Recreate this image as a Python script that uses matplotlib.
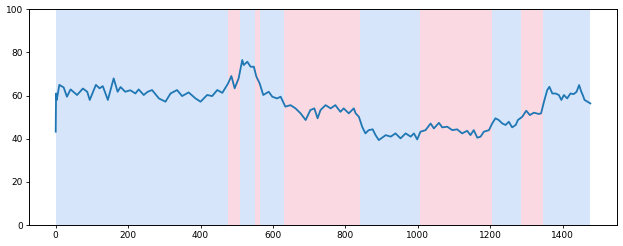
import numpy as np
import matplotlib
matplotlib.use("Agg")
import matplotlib.pyplot as plt

# series (index, value)
t = [0, 1, 3, 10, 22, 31, 41, 59, 75, 87, 94, 111, 121, 130, 144, 160, 171, 179,
     192, 206, 220, 229, 243, 254, 266, 285, 303, 317, 335, 349, 367, 386, 400,
     418, 432, 446, 460, 469, 476, 485, 494, 505, 515, 519, 529, 538, 547, 554,
     563, 573, 588, 598, 611, 621, 634, 648, 662, 676, 690, 703, 714, 723, 731,
     745, 759, 772, 786, 795, 809, 823, 828, 837, 846, 855, 864, 875, 883, 892,
     911, 925, 938, 952, 966, 980, 989, 998, 1007, 1021, 1035, 1044, 1058, 1067,
     1081, 1095, 1108, 1122, 1136, 1145, 1154, 1164, 1173, 1182, 1196, 1205,
     1214, 1223, 1233, 1242, 1251, 1260, 1270, 1276, 1288, 1299, 1309, 1320,
     1334, 1340, 1348, 1357, 1363, 1371, 1380, 1389, 1396, 1403, 1412, 1421,
     1430, 1438, 1445, 1451, 1455, 1460, 1468, 1476]
vals = [43.3, 61.0, 58.0, 65.0, 63.8, 59.5, 62.9, 60.3, 63.3, 61.8, 58.0, 65.0,
        63.4, 64.4, 58.0, 68.0, 61.8, 64.0, 61.8, 62.5, 61.0, 62.9, 60.3, 61.8,
        62.6, 58.7, 57.2, 61.0, 62.6, 59.8, 61.5, 58.7, 57.2, 60.3, 59.8, 62.6,
        61.3, 63.8, 65.7, 69.1, 63.4, 68.0, 76.5, 74.2, 75.7, 73.4, 73.4, 68.8,
        65.7, 60.3, 61.8, 59.5, 58.7, 59.5, 54.9, 55.6, 54.1, 51.8, 48.7, 53.3,
        54.1, 49.5, 53.3, 55.6, 54.1, 55.6, 52.5, 54.1, 51.8, 54.1, 51.8, 50.2,
        45.6, 42.5, 44.0, 44.4, 41.7, 39.4, 41.7, 41.0, 42.5, 40.2, 42.5, 41.0,
        42.5, 39.7, 43.3, 44.0, 47.1, 44.8, 47.4, 45.3, 45.6, 44.0, 44.4, 42.5,
        43.7, 41.7, 44.0, 40.5, 41.0, 43.3, 44.0, 47.1, 49.5, 48.7, 47.1, 46.4,
        47.9, 45.3, 46.4, 48.7, 50.2, 53.0, 51.0, 52.1, 51.5, 51.8, 57.2, 62.6,
        64.1, 61.0, 61.0, 60.3, 58.0, 60.3, 58.7, 61.0, 60.7, 61.8, 64.9, 61.8,
        60.3, 58.0, 57.2, 56.4]

# regime spans (start, end, kind)
span_start = [0, 476, 509, 550, 564, 630, 840, 1005, 1204, 1284, 1344]
span_end = [476, 509, 550, 564, 630, 840, 1005, 1204, 1284, 1344, 1476]
span_kind = ["b", "p", "b", "p", "b", "p", "b", "p", "b", "p", "b"]
span_colors = {"b": "#d7e5fa", "p": "#fbd9e2"}

fig = plt.figure(figsize=(6.23, 2.46), dpi=100)
ax = fig.add_axes([0.0465, 0.085, 0.944, 0.877])

for s, e, k in zip(span_start, span_end, span_kind):
    ax.axvspan(s, e, color=span_colors[k], lw=0, zorder=0)

ax.plot(t, vals, color="#1f77b4", lw=1.3, zorder=2)

ax.set_ylim(0, 100)
ax.set_xticks(range(0, 1401, 200))
ax.set_yticks(range(0, 101, 20))
ax.tick_params(labelsize=6.5, length=2.5, width=0.6, pad=2)
for sp in ax.spines.values():
    sp.set_linewidth(0.7)

fig.savefig("out.png", dpi=100)
